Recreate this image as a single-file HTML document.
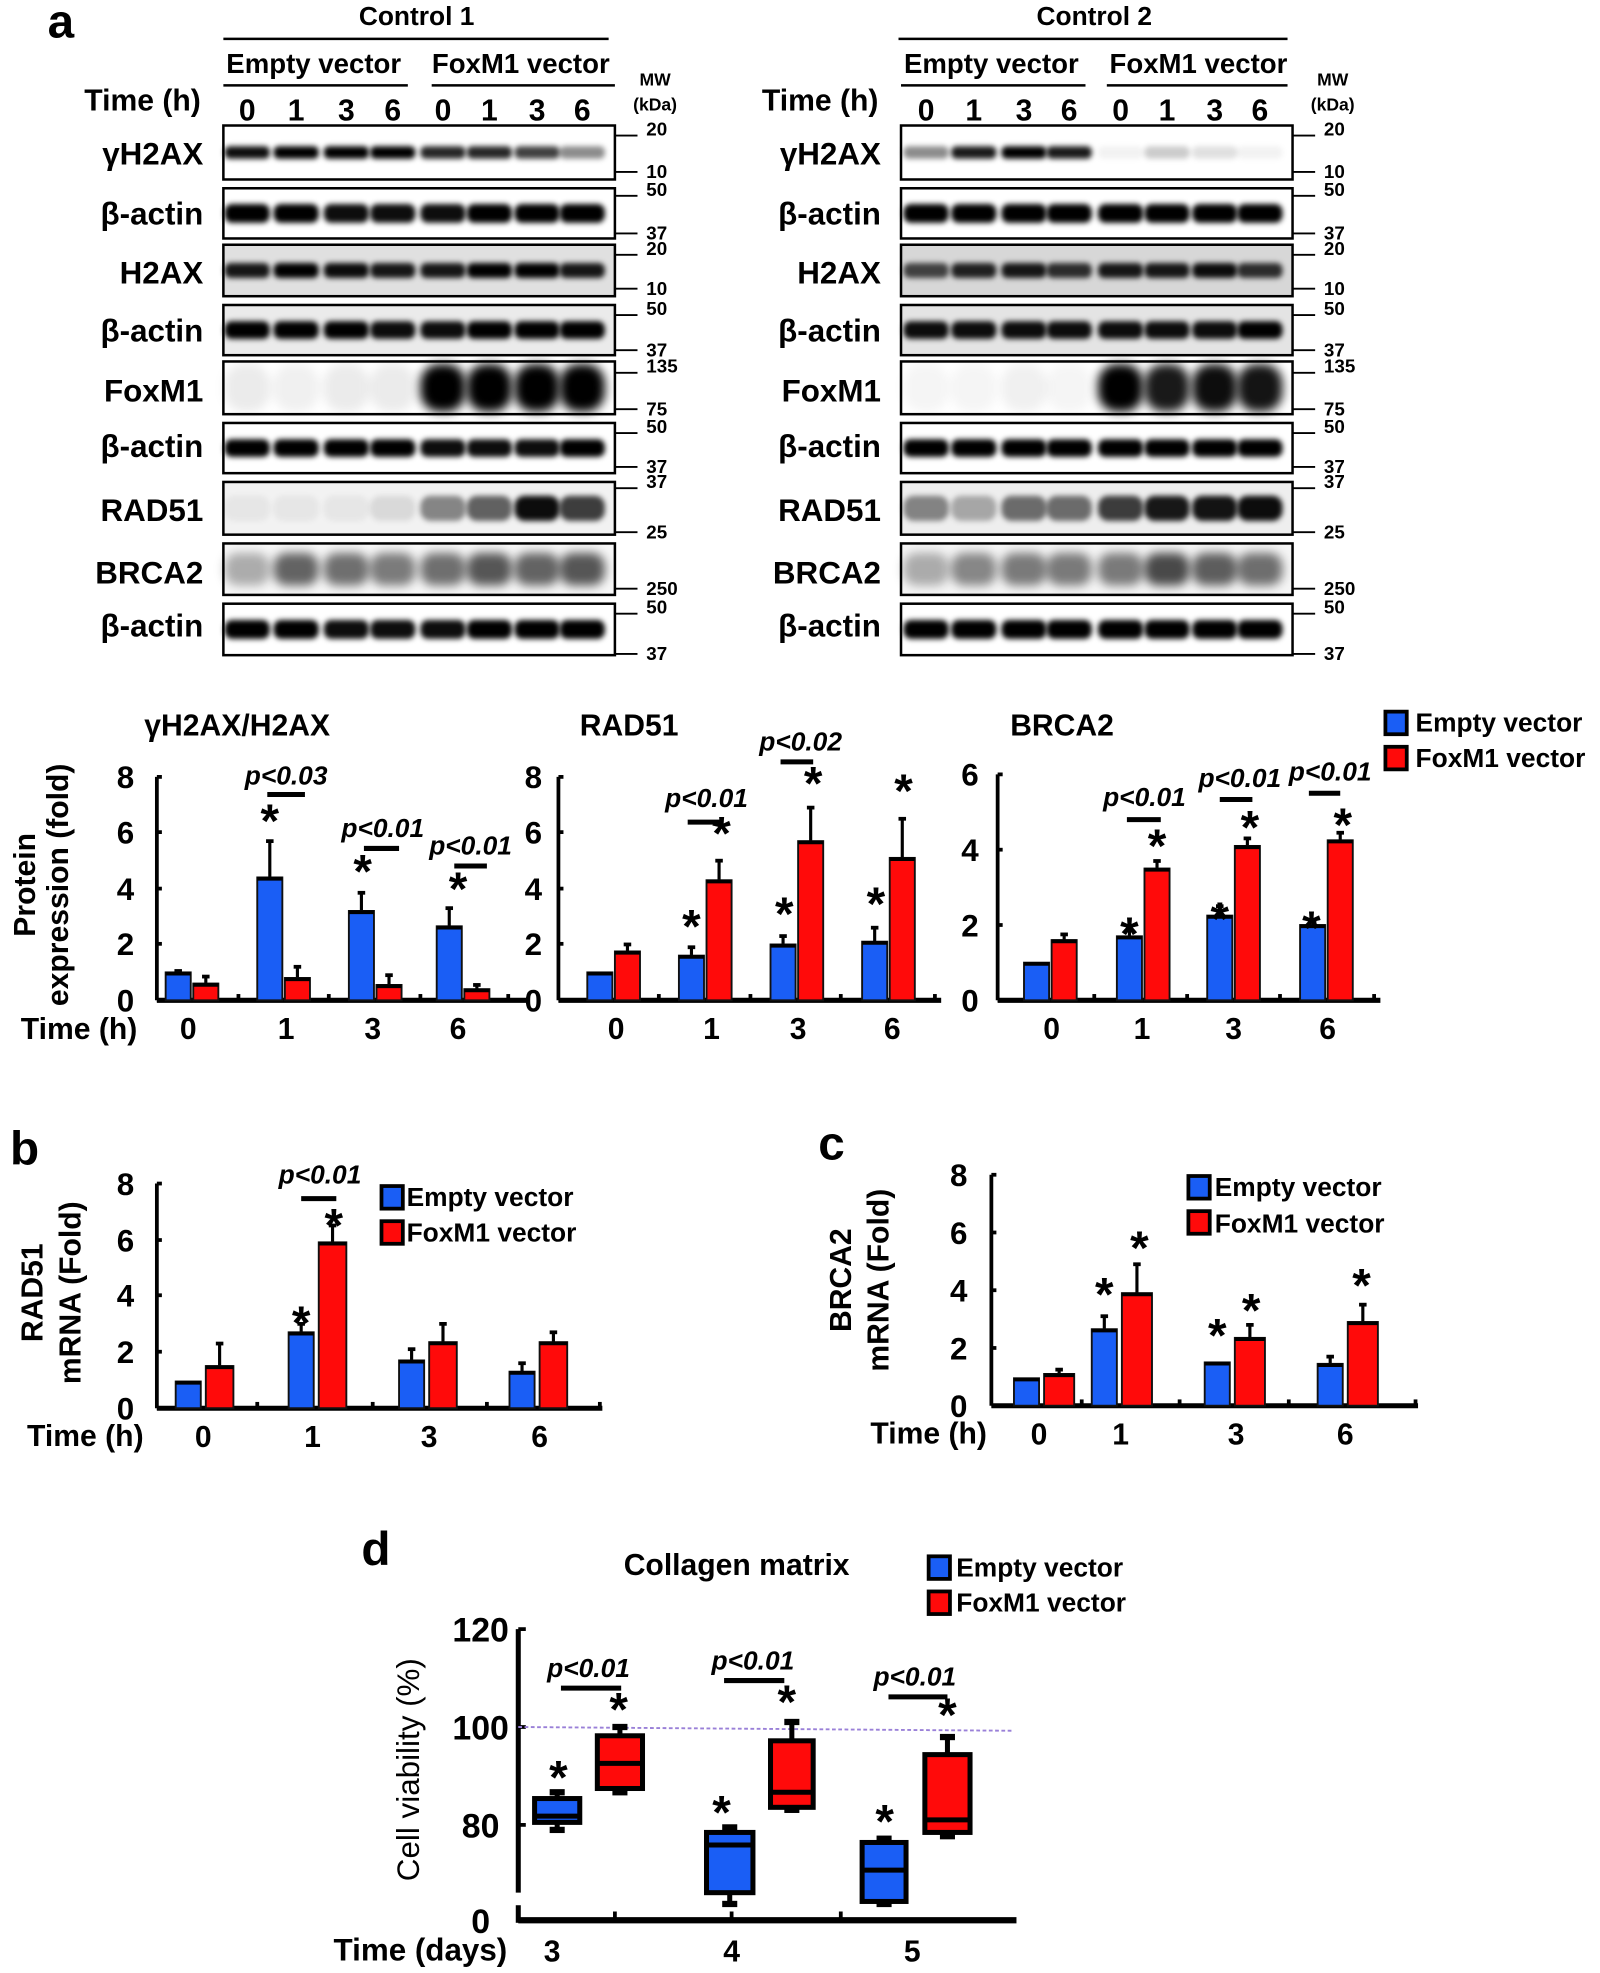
<!DOCTYPE html>
<html><head><meta charset="utf-8"><style>
html,body{margin:0;padding:0;background:#fff;}
svg{display:block;}
text{font-family:"Liberation Sans",Arial,sans-serif;font-weight:bold;fill:#000;}
.it{font-style:italic;}
</style></head><body>
<svg id="s" width="1600" height="1973" viewBox="0 0 1275 1572" preserveAspectRatio="none" xmlns="http://www.w3.org/2000/svg">
<defs>
<filter id="bl" x="-30%" y="-60%" width="160%" height="220%"><feGaussianBlur stdDeviation="2.2"/></filter>
<filter id="bl2" x="-30%" y="-60%" width="160%" height="220%"><feGaussianBlur stdDeviation="4"/></filter>
</defs>
<g id="g"></g>
<!-- Panel a text -->
<text x="38" y="30" font-size="38">a</text>
<text x="332" y="20" font-size="21" text-anchor="middle">Control 1</text>
<text x="250" y="58" font-size="22" text-anchor="middle">Empty  vector</text>
<text x="415" y="58" font-size="22" text-anchor="middle">FoxM1 vector</text>
<text x="522" y="68" font-size="14" text-anchor="middle">MW</text>
<text x="522" y="88" font-size="14" text-anchor="middle">(kDa)</text>
<text x="160" y="88" font-size="24" text-anchor="end">Time (h)</text>
<text x="872" y="20" font-size="21" text-anchor="middle">Control 2</text>
<text x="790" y="58" font-size="22" text-anchor="middle">Empty  vector</text>
<text x="955" y="58" font-size="22" text-anchor="middle">FoxM1 vector</text>
<text x="1062" y="68" font-size="14" text-anchor="middle">MW</text>
<text x="1062" y="88" font-size="14" text-anchor="middle">(kDa)</text>
<text x="700" y="88" font-size="24" text-anchor="end">Time (h)</text>
<g id="lanes" font-size="23"></g>
<g id="rowlabels" font-size="22"></g>
<g id="mw" font-size="14"></g>

<!-- Bar chart titles -->
<text x="115" y="586" font-size="24">γH2AX/H2AX</text>
<text x="462" y="586" font-size="24">RAD51</text>
<text x="805" y="586" font-size="24">BRCA2</text>
<text x="1128" y="583" font-size="21">Empty vector</text>
<text x="1128" y="611" font-size="21">FoxM1 vector</text>
<text transform="translate(28,705) rotate(-90)" font-size="24" text-anchor="middle">Protein</text>
<text transform="translate(54,705) rotate(-90)" font-size="24" text-anchor="middle">expression (fold)</text>
<text x="63" y="828" font-size="24" text-anchor="middle">Time (h)</text>

<!-- b -->
<text x="8" y="928" font-size="38">b</text>
<text transform="translate(34,1030) rotate(-90)" font-size="24" text-anchor="middle">RAD51</text>
<text transform="translate(64,1030) rotate(-90)" font-size="24" text-anchor="middle">mRNA (Fold)</text>
<text x="68" y="1152" font-size="24" text-anchor="middle">Time (h)</text>
<text x="324" y="961" font-size="21">Empty vector</text>
<text x="324" y="989" font-size="21">FoxM1 vector</text>
<!-- c -->
<text x="652" y="924" font-size="38">c</text>
<text transform="translate(678,1020) rotate(-90)" font-size="24" text-anchor="middle">BRCA2</text>
<text transform="translate(708,1020) rotate(-90)" font-size="24" text-anchor="middle">mRNA (Fold)</text>
<text x="740" y="1150" font-size="24" text-anchor="middle">Time (h)</text>
<text x="968" y="953" font-size="21">Empty vector</text>
<text x="968" y="982" font-size="21">FoxM1 vector</text>
<!-- d -->
<text x="288" y="1247" font-size="38">d</text>
<text x="587" y="1255" font-size="24" text-anchor="middle">Collagen matrix</text>
<text x="762" y="1256" font-size="21">Empty vector</text>
<text x="762" y="1284" font-size="21">FoxM1 vector</text>
<text transform="translate(334,1410) rotate(-90)" font-size="25" text-anchor="middle" style="font-weight:normal">Cell viability (%)</text>
<text x="335" y="1562" font-size="25" text-anchor="middle">Time (days)</text>
<g id="txt"></g>
</svg>
<script>
var NS="http://www.w3.org/2000/svg",G=document.getElementById('g');
function el(t,a,p){var e=document.createElementNS(NS,t);for(var k in a)e.setAttribute(k,a[k]);(p||G).appendChild(e);return e;}
function tx(x,y,s,fs,anch,cls,par){var e=el('text',{x:x,y:y,'font-size':fs,'text-anchor':anch||'middle'},par||document.getElementById('txt'));if(cls)e.setAttribute('class',cls);e.textContent=s;return e;}
function line(x1,y1,x2,y2,w,c){return el('line',{x1:x1,y1:y1,x2:x2,y2:y2,stroke:c||'#000','stroke-width':w||2});}
var rows=[
 {n:'γH2AX',t:100,b:143,lab:122,mw:[['20',108],['10',137]]},
 {n:'β-actin',t:150,b:190,lab:170,mw:[['50',156],['37',186]]},
 {n:'H2AX',t:195,b:236,lab:217,mw:[['20',203],['10',230]]},
 {n:'β-actin',t:243,b:283,lab:263,mw:[['50',251],['37',279]]},
 {n:'FoxM1',t:288,b:330,lab:311,mw:[['135',297],['75',326]]},
 {n:'β-actin',t:337,b:377,lab:355,mw:[['50',345],['37',372]]},
 {n:'RAD51',t:384,b:426,lab:406,mw:[['37',389],['25',424]]},
 {n:'BRCA2',t:433,b:474,lab:456,mw:[['250',469]]},
 {n:'β-actin',t:481,b:522,lab:498,mw:[['50',489],['37',521]]}];
var d1=[[.95,1,1,1,.85,.85,.75,.45],[1,1,.95,.95,.95,1,1,1],[.9,1,.95,.9,.9,1,1,.9],[1,1,1,.95,.95,1,1,1],[.08,.06,.08,.08,1,1,1,1],[1,1,1,1,.95,.95,.95,1],[.05,.05,.05,.1,.45,.6,.95,.75],[.3,.6,.55,.5,.55,.65,.6,.65],[1,1,.95,.95,.95,1,1,1]];
var d2=[[.45,.9,1,.9,.05,.2,.12,.05],[1,1,1,1,1,1,1,1],[.7,.85,.9,.8,.9,.9,.95,.8],[.95,.95,.95,.95,.95,.95,.95,1],[.04,.04,.06,.04,1,.9,.95,.92],[1,1,1,1,1,1,1,1],[.45,.3,.55,.55,.75,.9,.92,.95],[.3,.45,.5,.5,.5,.7,.62,.55],[1,1,1,1,1,1,1,1]];
var bgs=[0,0,.12,.08,0,0,.05,.03,0];
var bh=[10,15,12,14,38,14,20,26,15];
function panel(ox,lanes,dd,bgm){
 var lg=document.getElementById('lanes');
 lanes.forEach(function(x,i){tx(x,96,['0','1','3','6'][i%4],24,'middle',null,lg);});
 rows.forEach(function(r,ri){
  var c=Math.round(255-255*bgs[ri]*bgm);
  el('rect',{x:ox,y:r.t,width:312,height:r.b-r.t,fill:'rgb('+c+','+c+','+c+')',stroke:'#000','stroke-width':2});
  var cy=(r.t+r.b)/2;
  lanes.forEach(function(x,i){var v=dd[ri][i];
   el('rect',{x:x-18,y:cy-bh[ri]/2,width:36,height:bh[ri],rx:bh[ri]/2.5,fill:'#000','fill-opacity':v,filter:ri==4||ri==7?'url(#bl2)':'url(#bl)'});});
  tx(ox-16,r.lab+9,r.n,25,'end',null,document.getElementById('rowlabels'));
  r.mw.forEach(function(m){line(ox+312,m[1],ox+330,m[1],1.5);tx(ox+337,m[1]+(m[1]<(r.t+r.b)/2?0:5),m[0],15,'start',null,document.getElementById('mw'));});
 });
}
panel(178,[197,236,276,313,353,390,428,464],d1,1);
panel(718,[738,776,816,852,893,930,968,1004],d2,1.3);
line(178,31,485,31);line(178,68,325,68);line(344,68,490,68);
line(716,31,1026,31);line(718,68,865,68);line(882,68,1026,68);
var B='#1a5ef5',R='#ff0a0a';
function bar(x,w,base,top,col,err){
 if(err!==undefined){line(x+w/2,top,x+w/2,err,2.5);line(x+w/2-3,err,x+w/2+3,err,3);}
 el('rect',{x:x,y:top,width:w,height:base-top,fill:col,stroke:'#111','stroke-width':1.5});
 line(x,top+1,x+w,top+1,3);
}
function axes(ax,top,base,x2,ticks,tlx,minor){
 line(ax,top,ax,base,3);line(ax,base,x2,base,4);
 ticks.forEach(function(t){line(ax,t[1],ax+4,t[1],3);tx(tlx,t[1]+9,t[0],25,'middle');});
 minor.forEach(function(m){line(m,base,m,base-5,3);});
}
function star(x,y){tx(x,y+17,'*',38,'middle');}
function pv(x,y,s,x1,x2,ly){tx(x,y,s,21,'middle','it');line(x1,ly,x2,ly,4);}
var b1=797,s1=22.25;function Y1(v){return b1-v*s1;}
axes(125,619,797,420,[['8',619],['6',663],['4',708],['2',752],['0',797]],100,[190,262,335,405]);
[[132,1,.6,1.05,.85],[205,4.4,.8,5.7,1.2],[278,3.2,.55,3.85,.9],[348,2.65,.4,3.3,.55]].forEach(function(g){bar(g[0],20,b1,Y1(g[1]),B,Y1(g[3]));bar(g[0]+22,20,b1,Y1(g[2]),R,Y1(g[4]));});
[['0',150],['1',228],['3',297],['6',365]].forEach(function(l){tx(l[1],828,l[0],24);});
pv(228,625,'p<0.03',213,243,633);star(215,650);
pv(305,667,'p<0.01',290,318,676);star(289,690);
pv(375,681,'p<0.01',362,388,690);star(365,704);
axes(445,619,797,750,[['8',619],['6',663],['4',708],['2',752],['0',797]],425,[525,598,670,745]);
[[468,1,1.75,null,2.0],[541,1.6,4.3,1.9,5.0],[614,2.0,5.7,2.3,6.9],[687,2.1,5.1,2.6,6.5]].forEach(function(g){bar(g[0],20,b1,Y1(g[1]),B,g[3]?Y1(g[3]):undefined);bar(g[0]+22,20,b1,Y1(g[2]),R,Y1(g[4]));});
[['0',491],['1',567],['3',636],['6',711]].forEach(function(l){tx(l[1],828,l[0],24);});
star(551,734);star(575,660);pv(563,643,'p<0.01',548,575,655);
star(625,724);star(648,620);pv(638,598,'p<0.02',622,648,607);
star(698,716);star(720,626);
var s3=30;function Y3(v){return b1-v*s3;}
axes(795,617,797,1100,[['6',617],['4',677],['2',737],['0',797]],773,[872,946,1020,1095]);
[[816,1,1.6,null,1.75],[890,1.7,3.5,1.85,3.7],[962,2.25,4.1,2.5,4.3],[1036,2.0,4.25,2.1,4.45]].forEach(function(g){bar(g[0],20,b1,Y3(g[1]),B,g[3]?Y3(g[3]):undefined);bar(g[0]+22,20,b1,Y3(g[2]),R,Y3(g[4]));});
[['0',838],['1',910],['3',983],['6',1058]].forEach(function(l){tx(l[1],828,l[0],24);});
star(900,740);star(922,670);pv(912,642,'p<0.01',898,925,653);
star(972,728);star(996,655);pv(988,627,'p<0.01',972,998,637);
star(1045,735);star(1070,653);pv(1060,622,'p<0.01',1043,1068,632);
function leg(x,y1,y2){el('rect',{x:x,y:y1,width:17,height:18,fill:B,stroke:'#000','stroke-width':3});el('rect',{x:x,y:y2,width:17,height:18,fill:R,stroke:'#000','stroke-width':3});}
leg(1104,567,595);leg(304,945,973);leg(947,937,965);leg(740,1240,1268);
var bb=1122,sb=22.4;function Yb(v){return bb-v*sb;}
axes(125,943,1122,480,[['8',943],['6',988],['4',1032],['2',1077],['0',1122]],100,[205,297,388,478]);
[[140,.95,1.5,null,2.3],[230,2.7,5.9,3.0,6.5],[318,1.7,2.35,2.1,3.0],[406,1.3,2.35,1.6,2.7]].forEach(function(g){bar(g[0],20,bb,Yb(g[1]),B,g[3]?Yb(g[3]):undefined);bar(g[0]+24,22,bb,Yb(g[2]),R,Yb(g[4]));});
[['0',162],['1',249],['3',342],['6',430]].forEach(function(l){tx(l[1],1153,l[0],24);});
star(240,1050);star(266,972);pv(255,943,'p<0.01',240,268,955);
var bc=1120,sc=23;function Yc(v){return bc-v*sc;}
axes(790,936,1120,1130,[['8',936],['6',982],['4',1028],['2',1074],['0',1120]],764,[862,940,1027,1128]);
[[808,.95,1.1,null,1.25],[870,2.65,3.9,3.1,4.9],[960,1.5,2.35,null,2.8],[1050,1.45,2.9,1.7,3.5]].forEach(function(g){bar(g[0],20,bc,Yc(g[1]),B,g[3]?Yc(g[3]):undefined);bar(g[0]+24,24,bc,Yc(g[2]),R,Yc(g[4]));});
[['0',828],['1',893],['3',985],['6',1072]].forEach(function(l){tx(l[1],1151,l[0],24);});
star(880,1027);star(908,990);star(970,1060);star(997,1040);star(1085,1020);
line(413,1298,413,1508,4);line(413,1518,413,1532,4);line(413,1530,810,1530,5);
[['120',1298],['100',1376],['80',1454],['0',1530]].forEach(function(t){line(413,t[1],419,t[1],3);tx(383,t[1]+10,t[0],27,'middle');});
[490,583,670].forEach(function(m){line(m,1530,m,1523,3);});
el('line',{x1:413,y1:1376,x2:808,y2:1379,stroke:'#9a80d8','stroke-width':1.5,'stroke-dasharray':'3,2'});
function box(x,w,wt,q3,md,q1,wb,col){
 line(x+w/2,wt,x+w/2,wb,4);line(x+w/2-6,wt,x+w/2+6,wt,5);line(x+w/2-6,wb,x+w/2+6,wb,5);
 el('rect',{x:x,y:q3,width:w,height:q1-q3,fill:col,stroke:'#000','stroke-width':4});
 line(x,md,x+w,md,4);
}
box(426,36,1428,1433,1447,1452,1458,B);box(476,36,1376,1383,1405,1425,1428,R);
box(563,37,1456,1460,1470,1508,1517,B);box(614,34,1372,1387,1428,1440,1442,R);
box(687,35,1465,1468,1490,1515,1517,B);box(737,36,1384,1398,1450,1460,1463,R);
[['3',440],['4',583],['5',727]].forEach(function(l){tx(l[1],1563,l[0],24);});
star(445,1412);star(493,1358);pv(469,1336,'p<0.01',447,495,1345);
star(575,1440);star(627,1352);pv(600,1330,'p<0.01',577,625,1339);
star(705,1447);star(755,1362);pv(729,1343,'p<0.01',708,755,1352);
</script>
</body></html>
